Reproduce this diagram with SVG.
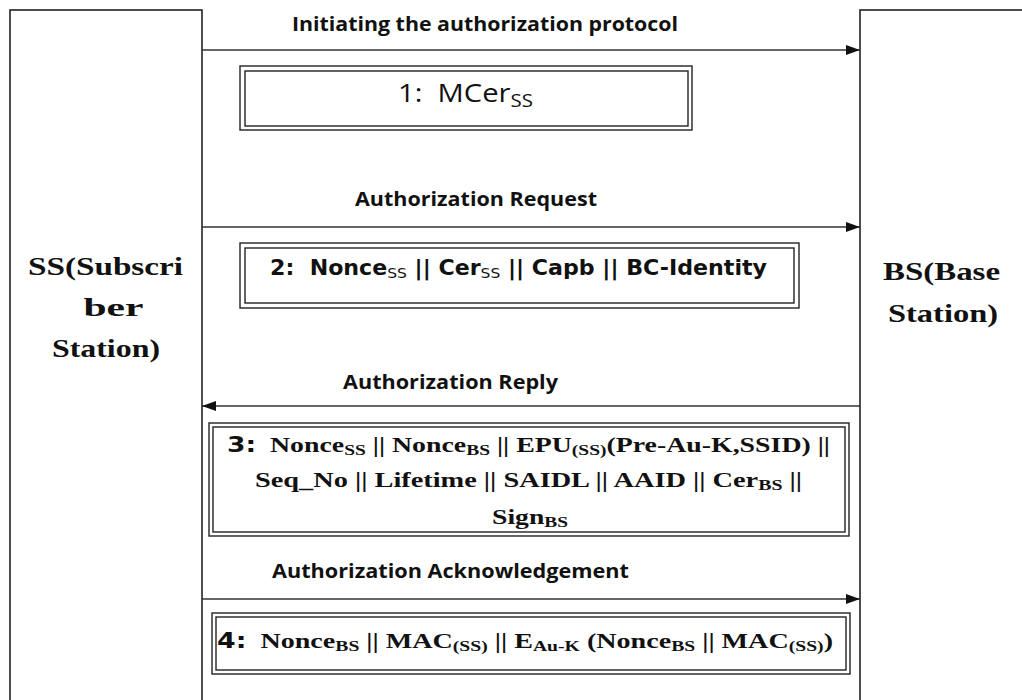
<svg xmlns="http://www.w3.org/2000/svg" width="1022" height="700" viewBox="0 0 1022 700">
  <style>
    .ent { fill: #fff; stroke: #222; stroke-width: 1.6; }
    .frame { fill: #fff; stroke: #222; stroke-width: 1.4; }
    .wire { stroke: #333; stroke-width: 1.5; fill: none; }
    .lbl { font-family: "Open Sans", "Liberation Sans", sans-serif; font-weight: bold; font-size: 19px; fill: #111; }
    .ent-t { font-family: "Liberation Serif", serif; font-weight: bold; font-size: 26px; fill: #111; text-anchor: middle; }
    .sans { font-family: "Open Sans", "Liberation Sans", sans-serif; font-size: 25px; fill: #111; }
    .tah { font-family: "DejaVu Sans", "Liberation Sans", sans-serif; font-weight: bold; font-size: 21px; fill: #111; }
    .ser { font-family: "Liberation Serif", serif; font-weight: bold; font-size: 22px; fill: #111; }
    .sub { font-size: 70%; }
    .thin { font-weight: normal; }
  </style>
  <defs>
    <marker id="arrow" viewBox="0 0 14 10" refX="14" refY="5" markerWidth="14" markerHeight="10" markerUnits="userSpaceOnUse" orient="auto">
      <path d="M0,0 L14,5 L0,10 Z" fill="#111"/>
    </marker>
  </defs>
  <rect width="1022" height="700" fill="#fff"/>

  <!-- lifelines -->
  <g id="ss">
    <rect class="ent" x="10" y="10" width="192" height="710"/>
    <text class="ent-t" x="105.5" y="275" textLength="155" lengthAdjust="spacingAndGlyphs">SS(Subscri</text>
    <text class="ent-t" x="113.5" y="316" textLength="60" lengthAdjust="spacingAndGlyphs">ber</text>
    <text class="ent-t" x="106" y="357" textLength="108" lengthAdjust="spacingAndGlyphs">Station)</text>
  </g>
  <g id="bs">
    <rect class="ent" x="860" y="10" width="180" height="710"/>
    <text class="ent-t" x="941.5" y="280" textLength="117" lengthAdjust="spacingAndGlyphs">BS(Base</text>
    <text class="ent-t" x="943" y="322" textLength="110" lengthAdjust="spacingAndGlyphs">Station)</text>
  </g>

  <!-- messages -->
  <g id="connectors">
    <line class="wire" x1="202" y1="50" x2="860" y2="50" marker-end="url(#arrow)"/>
    <line class="wire" x1="202" y1="227" x2="860" y2="227" marker-end="url(#arrow)"/>
    <line class="wire" x1="860" y1="406" x2="202" y2="406" marker-end="url(#arrow)"/>
    <line class="wire" x1="202" y1="599" x2="860" y2="599" marker-end="url(#arrow)"/>
    <text class="lbl" x="292" y="31" textLength="386" lengthAdjust="spacingAndGlyphs">Initiating the authorization protocol</text>
    <text class="lbl" x="355" y="206" textLength="242" lengthAdjust="spacingAndGlyphs">Authorization Request</text>
    <text class="lbl" x="343" y="389" textLength="215" lengthAdjust="spacingAndGlyphs">Authorization Reply</text>
    <text class="lbl" x="272" y="578" textLength="357" lengthAdjust="spacingAndGlyphs">Authorization Acknowledgement</text>
  </g>

  <!-- message contents -->
  <g id="msg1">
    <rect class="frame" x="240" y="66" width="452" height="64"/>
    <rect class="frame" x="245" y="71" width="443" height="55"/>
    <text class="sans" x="398" y="102" textLength="135" lengthAdjust="spacingAndGlyphs">1:&#160; MCer<tspan class="sub" dy="5">SS</tspan></text>
  </g>
  <g id="msg2">
    <rect class="frame" x="240" y="243" width="559" height="65"/>
    <rect class="frame" x="245" y="248" width="549" height="55"/>
    <text class="tah" x="270" y="275" textLength="497" lengthAdjust="spacingAndGlyphs">2:&#160; Nonce<tspan class="sub thin" dy="3">SS</tspan><tspan dy="-3"> || Cer</tspan><tspan class="sub thin" dy="3">SS</tspan><tspan dy="-3"> || Capb || BC-Identity</tspan></text>
  </g>
  <g id="msg3">
    <rect class="frame" x="209" y="423" width="640" height="113"/>
    <rect class="frame" x="213" y="427" width="632" height="105"/>
    <text class="ser" x="227" y="452" textLength="603" lengthAdjust="spacingAndGlyphs"><tspan class="tah" font-size="19">3:</tspan>&#160; Nonce<tspan class="sub" dy="3">SS</tspan><tspan dy="-3"> || Nonce</tspan><tspan class="sub" dy="3">BS</tspan><tspan dy="-3"> || EPU</tspan><tspan class="sub" dy="3">(SS)</tspan><tspan dy="-3">(Pre-Au-K,SSID) ||</tspan></text>
    <text class="ser" x="255" y="487" textLength="547" lengthAdjust="spacingAndGlyphs">Seq_No || Lifetime || SAIDL || AAID || Cer<tspan class="sub" dy="3">BS</tspan><tspan dy="-3"> ||</tspan></text>
    <text class="ser" x="492" y="524" textLength="76" lengthAdjust="spacingAndGlyphs">Sign<tspan class="sub" dy="3">BS</tspan></text>
  </g>
  <g id="msg4">
    <rect class="frame" x="212" y="613" width="638" height="61"/>
    <rect class="frame" x="216" y="617" width="630" height="53"/>
    <text class="ser" x="217" y="648" textLength="616" lengthAdjust="spacingAndGlyphs"><tspan class="tah" font-size="19">4:</tspan>&#160; Nonce<tspan class="sub" dy="3">BS</tspan><tspan dy="-3"> || MAC</tspan><tspan class="sub" dy="3">(SS)</tspan><tspan dy="-3"> || E</tspan><tspan class="sub" dy="3">Au-K</tspan><tspan dy="-3"> (Nonce</tspan><tspan class="sub" dy="3">BS</tspan><tspan dy="-3"> || MAC</tspan><tspan class="sub" dy="3">(SS)</tspan><tspan dy="-3">)</tspan></text>
  </g>
</svg>
